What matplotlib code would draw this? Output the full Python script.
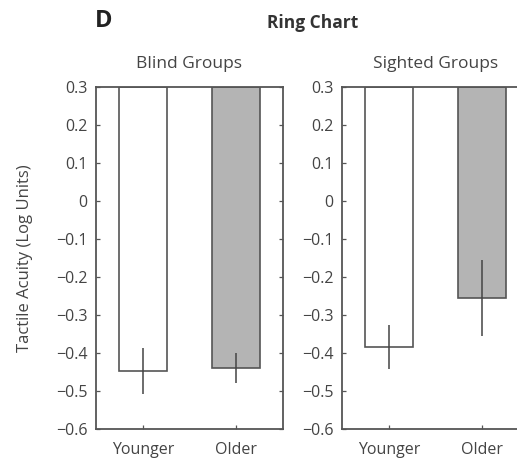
#!/usr/bin/env python3
"""Panel D: ring chart tactile acuity, blind vs sighted groups."""

import matplotlib
matplotlib.use("Agg")
import matplotlib.pyplot as plt

plt.rcParams["font.family"] = ["Open Sans", "DejaVu Sans"]

groups = ["Younger", "Older"]
panel_titles = ["Blind Groups", "Sighted Groups"]
blind_means = [-0.447, -0.440]
blind_err = [0.060, 0.040]
sighted_means = [-0.385, -0.254]
sighted_err = [0.058, 0.100]
yticks = [0.3, 0.2, 0.1, 0, -0.1, -0.2, -0.3, -0.4, -0.5, -0.6]

TOP = 0.3
EDGE = "#555555"
TEXT = "#444444"
FILLS = ["white", "#b4b4b4"]

fig = plt.figure(figsize=(5.17, 4.61), dpi=100)
W, H = 517, 461


def add_panel(left_px, title, means, errs):
    ax = fig.add_axes([left_px / W, (H - 429) / H, 187 / W, 342 / H])
    x = [1, 2]
    ax.bar(x, [TOP - m for m in means], bottom=means, width=0.51,
           color=FILLS, edgecolor=EDGE, linewidth=1.2, zorder=2)
    ax.errorbar(x, means, yerr=errs, fmt="none", ecolor="#444444",
                elinewidth=1.1, capsize=0, zorder=3)
    ax.set_xlim(0.5, 2.5)
    ax.set_ylim(-0.6, 0.3)
    ax.set_xticks(x)
    ax.set_xticklabels(groups)
    ax.set_yticks(yticks)
    ax.set_yticklabels(["0" if v == 0 else f"{v:.1f}".replace("-", "\u2212")
                        for v in yticks])
    ax.tick_params(direction="in", length=3, width=0.9, color=EDGE,
                   labelcolor=TEXT, labelsize=11.5, top=True, right=True)
    ax.tick_params(axis="y", pad=6)
    ax.tick_params(axis="x", pad=9)
    for s in ax.spines.values():
        s.set_color(EDGE)
        s.set_linewidth(1.3)
    ax.set_title(title, fontsize=12.5, color=TEXT, pad=14)
    return ax


ax1 = add_panel(96, panel_titles[0], blind_means, blind_err)
ax2 = add_panel(342, panel_titles[1], sighted_means, sighted_err)
ax1.set_ylabel("Tactile Acuity (Log Units)", fontsize=12, color=TEXT,
               labelpad=17)

fig.text(104 / W, 1 - 21 / H, "D", fontsize=17, fontweight="bold",
         color="#222222", ha="center", va="center")
fig.text(313 / W, 1 - 23 / H, "Ring Chart", fontsize=12.5, fontweight="bold",
         color="#333333", ha="center", va="center")

fig.savefig("out.png", dpi=100)
